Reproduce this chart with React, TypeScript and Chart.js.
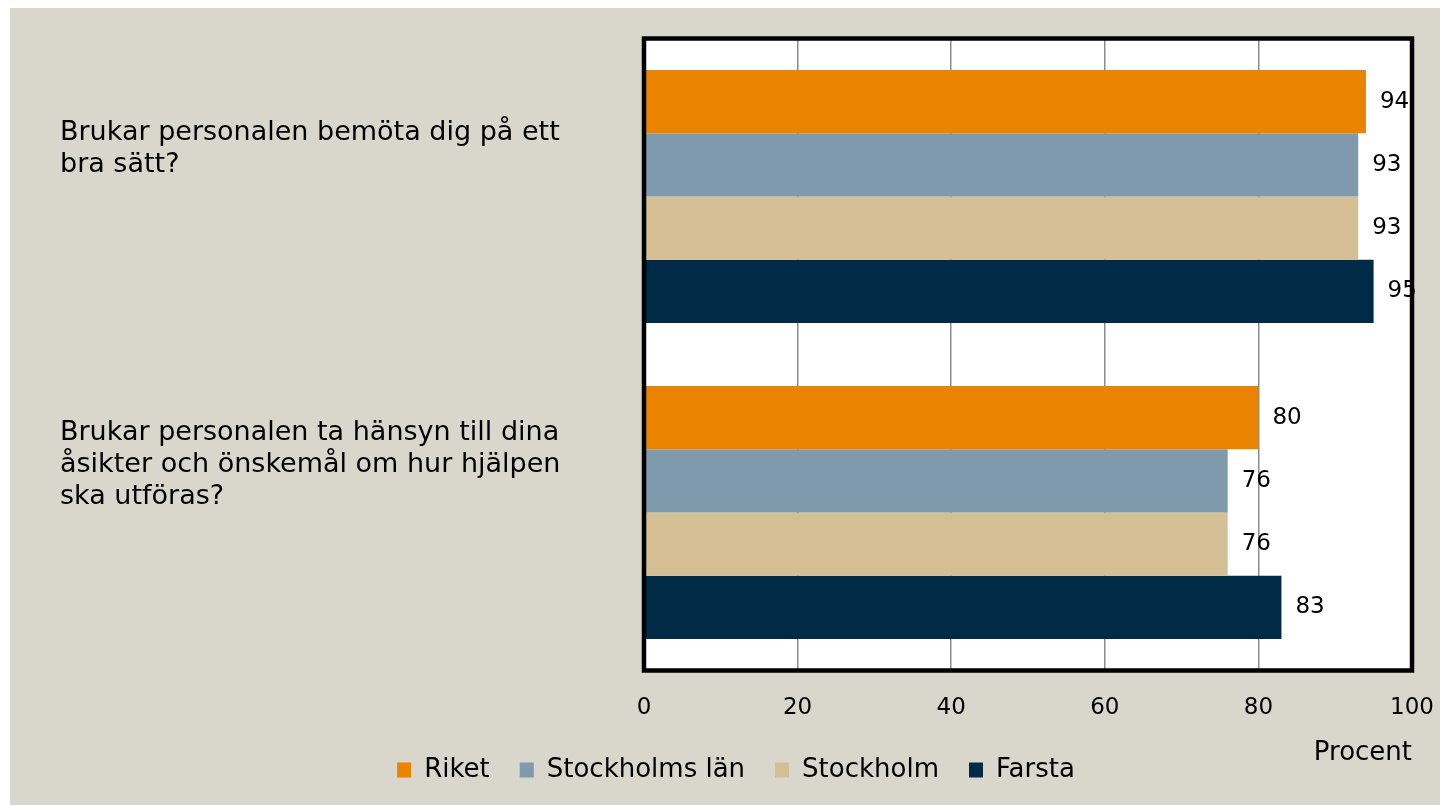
import React, { useEffect, useRef } from 'react';
import { Chart, registerables } from 'chart.js';

Chart.register(...registerables);

const categories: string[][] = [
  ['Brukar personalen bemöta dig på ett', 'bra sätt?'],
  ['Brukar personalen ta hänsyn till dina', 'åsikter och önskemål om hur hjälpen', 'ska utföras?'],
];
const seriesNames = ['Riket', 'Stockholms län', 'Stockholm', 'Farsta'];
const riket = [94, 80];
const stockholmsLan = [93, 76];
const stockholm = [93, 76];
const farsta = [95, 83];
const seriesColors = ['#E98300', '#7F9AAD', '#D4BE93', '#002A45'];
const xMin = 0;
const xMax = 100;
const xStep = 20;
const axisTitle = 'Procent';

const FONT = "'DejaVu Sans', sans-serif";

const plotBg = {
  id: 'plotBg',
  beforeDraw(chart: any) {
    const { ctx, chartArea: a } = chart;
    ctx.save();
    ctx.fillStyle = '#ffffff';
    ctx.fillRect(a.left, a.top, a.right - a.left, a.bottom - a.top);
    ctx.restore();
  },
};

const valueLabels = {
  id: 'valueLabels',
  afterDatasetsDraw(chart: any) {
    const { ctx } = chart;
    ctx.save();
    ctx.font = `23px ${FONT}`;
    ctx.fillStyle = '#000000';
    ctx.textAlign = 'left';
    ctx.textBaseline = 'middle';
    chart.data.datasets.forEach((ds: any, i: number) => {
      const meta = chart.getDatasetMeta(i);
      meta.data.forEach((el: any, j: number) => {
        ctx.fillText(String(ds.data[j]), el.x + 14, el.y);
      });
    });
    // plot frame
    const a = chart.chartArea;
    ctx.strokeStyle = '#000000';
    ctx.lineWidth = 4.5;
    ctx.strokeRect(a.left, a.top, a.right - a.left, a.bottom - a.top);
    ctx.restore();
  },
};

export default function App() {
  const ref = useRef<HTMLCanvasElement | null>(null);

  useEffect(() => {
    if (!ref.current) return;
    const series = [riket, stockholmsLan, stockholm, farsta];
    const chart = new Chart(ref.current, {
      type: 'bar',
      data: {
        labels: categories.map((lines) => [...lines, '', '', '']),
        datasets: series.map((d, i) => ({
          label: seriesNames[i],
          data: d,
          backgroundColor: seriesColors[i],
          borderWidth: 0,
          barPercentage: 1.0,
          categoryPercentage: 0.8,
        })),
      },
      options: {
        indexAxis: 'y',
        responsive: false,
        animation: false,
        layout: { padding: { left: 50, right: 36, top: 30.5, bottom: 12 } },
        scales: {
          x: {
            min: xMin,
            max: xMax,
            ticks: {
              stepSize: xStep,
              color: '#000000',
              font: { family: FONT, size: 23 },
              padding: 23.5,
            },
            grid: {
              color: '#8c8c8c',
              lineWidth: 1.5,
              drawTicks: false,
            },
            border: { display: false },
            title: {
              display: true,
              text: axisTitle,
              align: 'end',
              color: '#000000',
              font: { family: FONT, size: 26 },
              padding: { top: -7.7, bottom: -41.6 },
            },
            afterFit: (scale: any) => {
              scale.paddingLeft = 0;
              scale.paddingRight = 0;
            },
          },
          y: {
            ticks: {
              crossAlign: 'far',
              autoSkip: false,
              color: '#000000',
              font: { family: FONT, size: 27, lineHeight: '32px' },
            },
            grid: { display: false },
            border: { display: false },
            afterFit: (scale: any) => {
              scale.width = 584;
              scale.paddingTop = 0;
              scale.paddingBottom = 0;
            },
          },
        },
        plugins: {
          legend: {
            position: 'bottom',
            labels: {
              boxWidth: 14,
              boxHeight: 15,
              padding: 30,
              color: '#000000',
              font: { family: FONT, size: 26 },
            },
          },
          tooltip: { enabled: false },
        },
      },
      plugins: [plotBg, valueLabels],
    } as any);
    return () => chart.destroy();
  }, []);

  return (
    <div style={{ marginLeft: 2, width: 1438, height: 797, background: '#D9D7CB' }}>
      <canvas ref={ref} width={1438} height={797} style={{ display: 'block' }} />
    </div>
  );
}
